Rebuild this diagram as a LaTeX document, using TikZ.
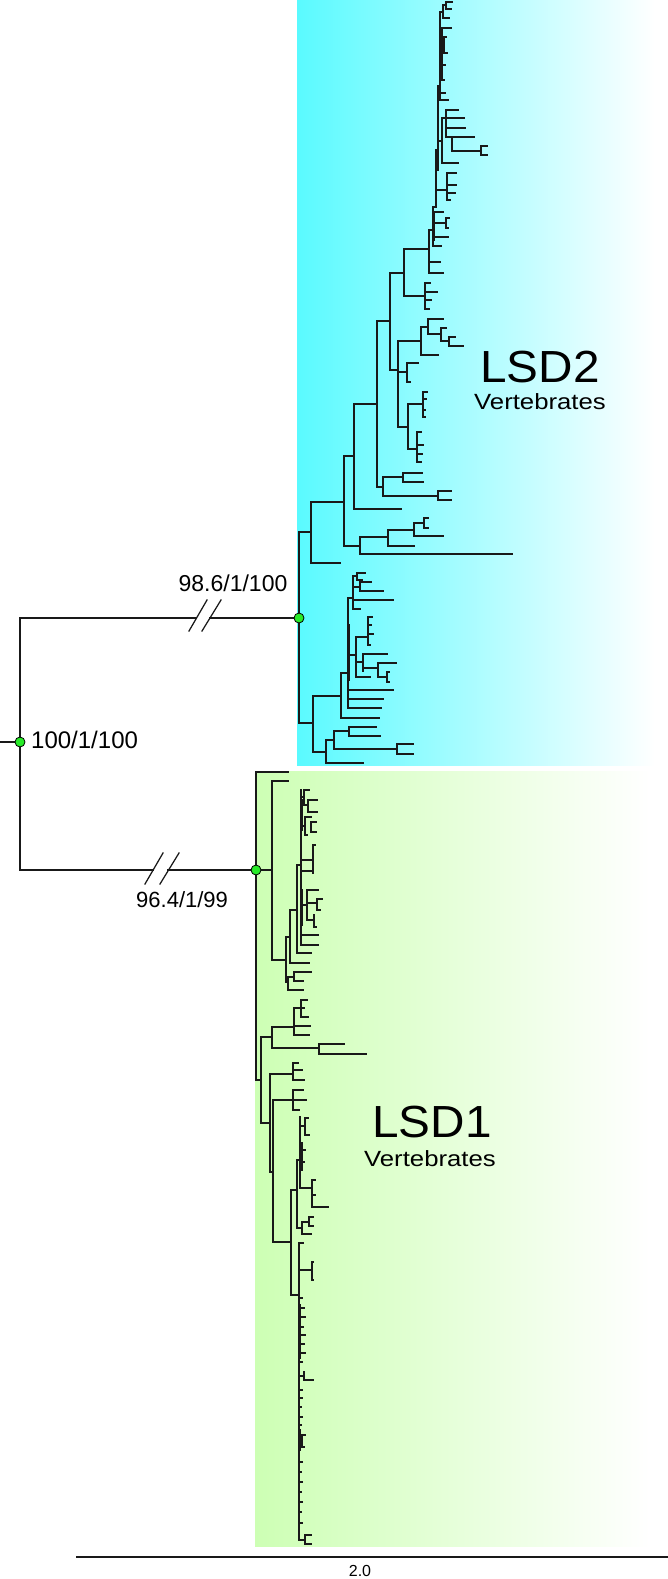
\documentclass[tikz,border=0pt]{standalone}
\usepackage{fontspec}
\setmainfont{Liberation Sans}
\definecolor{cyanL}{RGB}{90,250,255}
\definecolor{greenL}{RGB}{205,255,180}
\definecolor{dotG}{RGB}{40,235,40}
\definecolor{ink}{RGB}{25,25,25}
\newcommand\VL[3]{\draw[br] (#1,#2) -- (#1,#3);}
\newcommand\HL[3]{\draw[br] (#1,#3) -- (#2,#3);}
\newcommand\TB[5]{\draw[br] (#2,#3) -| (#1,#4) -- (#5,#4);}
\begin{document}
\begin{tikzpicture}[x=1pt,y=-1pt,
  br/.style={line width=1.25pt, draw=ink, line cap=rect},
  dot/.style={circle, draw=black, line width=0.8pt, fill=dotG, minimum size=10pt, inner sep=0pt},
  lab/.style={inner sep=0pt, font=\fontsize{23}{26}\selectfont},
  big/.style={inner sep=0pt, font=\fontsize{45}{50}\selectfont},
  sub/.style={inner sep=0pt, font=\fontsize{22}{26}\selectfont}]
\useasboundingbox (0,0) rectangle (668,1579);
% backgrounds
\shade[left color=cyanL, right color=white] (297,0) rectangle (655,765);
\shade[left color=greenL, right color=white] (255,771) rectangle (650,1546);
% main structure
\coordinate (stem) at (0,742);
\coordinate (root) at (20,742);
\coordinate (n2) at (299,618);
\coordinate (n1) at (256,870);
\coordinate (b2a) at (196,618);
\coordinate (b2b) at (210,618);
\coordinate (b1a) at (153,870);
\coordinate (b1b) at (168,870);
\draw[br] (stem) -- (root);
\draw[br] (root) |- (b2a);
\draw[br] (b2b) -- (n2);
\draw[br] (root) |- (b1a);
\draw[br] (b1b) -- (n1);
\draw[br] (189,631) -- (207,600);
\draw[br] (202,631) -- (221,600);
\draw[br] (145,884) -- (163,853);
\draw[br] (160,884) -- (179,853);
% ---------------- LSD2 ----------------
\VL{299}{532}{723}
\HL{299}{311}{532}
\HL{299}{313}{723}
\TB{311}{344}{502}{563}{340}
\TB{344}{354}{456}{546}{360}
\TB{360}{388}{537}{554}{512}
\TB{388}{414}{530}{546}{414}
\TB{414}{424}{523}{536}{443}
\TB{424}{428}{518}{528}{428}
\TB{354}{377}{404}{509}{401}
\TB{377}{390}{321}{487}{383}
\TB{383}{403}{477}{496}{438}
\TB{403}{422}{473}{482}{423}
\TB{438}{451}{491}{500}{451}
\TB{390}{404}{273}{370}{398}
\TB{398}{421}{341}{427}{408}
\draw[br, line width=1.8pt] (398,370) -- (398,398);
\HL{398}{407}{372}
\TB{407}{418}{363}{382}{410}
\TB{421}{428}{327}{355}{438}
\TB{428}{443}{319}{334}{441}
\TB{441}{446}{328}{341}{449}
\TB{449}{455}{337}{346}{463}
\TB{408}{423}{404}{449}{417}
\TB{423}{427}{392}{417}{425}
\HL{423}{426}{399}
\HL{423}{425}{410}
\TB{417}{421}{432}{462}{421}
\HL{417}{423}{445}
\HL{417}{422}{454}
\TB{404}{429}{249}{296}{425}
\VL{425}{283}{309}
\HL{425}{430}{283}
\HL{425}{437}{292}
\HL{425}{431}{300}
\HL{425}{429}{309}
\VL{429}{230}{273}
\HL{429}{433}{230}
\HL{429}{440}{262}
\HL{429}{443}{273}
\VL{433}{207}{246}
\draw[br, line width=1.8pt] (434,212) -- (434,240);
\HL{433}{436}{207}
\HL{433}{443}{212}
\HL{433}{446}{223}
\TB{446}{449}{218}{228}{448}
\HL{433}{448}{237}
\HL{433}{441}{246}
\VL{436}{150}{207}
\draw[br, line width=1.8pt] (436,150) -- (436,200);
\HL{436}{447}{190}
\VL{447}{173}{200}
\HL{447}{456}{173}
\HL{447}{456}{185}
\HL{447}{455}{193}
\HL{447}{450}{200}
\VL{438}{86}{170}
\HL{436}{438}{150}
\HL{438}{442}{141}
\VL{442}{118}{163}
\HL{442}{458}{163}
\HL{442}{446}{118}
\VL{446}{110}{137}
\HL{446}{458}{110}
\HL{446}{464}{118}
\HL{446}{465}{128}
\HL{446}{452}{137}
\TB{452}{474}{137}{151}{481}
\TB{481}{487}{146}{155}{487}
\HL{438}{440}{86}
\VL{440}{12}{100}
\draw[br, line width=1.8pt] (442,28) -- (442,80);
\HL{440}{448}{100}
\HL{440}{445}{93}
\HL{442}{444}{80}
\HL{442}{445}{65}
\HL{442}{444}{50}
\HL{442}{451}{28}
\VL{444}{37}{53}
\HL{444}{446}{37}
\HL{444}{447}{53}
\HL{440}{443}{12}
\TB{443}{446}{5}{18}{449}
\TB{446}{452}{2}{9}{451}
% LSD2 lower group
\TB{313}{341}{696}{752}{326}
\TB{341}{348}{673}{718}{379}
\VL{348}{598}{708}
\draw[br, line width=1.8pt] (349,625) -- (349,680);
\HL{348}{353}{598}
\VL{353}{576}{609}
\HL{353}{357}{576}
\TB{357}{365}{573}{580}{362}
\HL{353}{360}{587}
\TB{360}{371}{582}{591}{383}
\HL{353}{393}{600}
\HL{353}{360}{609}
\HL{348}{356}{655}
\VL{356}{637}{677}
\HL{356}{368}{637}
\VL{368}{617}{645}
\HL{368}{372}{617}
\HL{368}{371}{625}
\HL{368}{373}{634}
\HL{368}{370}{645}
\HL{356}{363}{662}
\VL{363}{654}{671}
\HL{363}{387}{654}
\HL{363}{378}{668}
\VL{378}{663}{677}
\HL{378}{396}{663}
\HL{378}{387}{677}
\TB{387}{389}{672}{682}{389}
\HL{356}{370}{677}
\HL{348}{393}{690}
\HL{348}{383}{699}
\HL{348}{381}{708}
\TB{326}{334}{740}{763}{363}
\TB{334}{349}{731}{749}{397}
\TB{349}{376}{727}{736}{380}
\TB{397}{413}{744}{754}{413}
% ---------------- LSD1 ----------------
\VL{256}{772}{1080}
\HL{256}{288}{772}
\HL{256}{272}{870}
\TB{272}{288}{781}{960}{286}
\TB{286}{290}{937}{982}{288}
\VL{288}{977}{990}
\HL{288}{303}{990}
\HL{288}{294}{977}
\TB{294}{311}{972}{981}{303}
\TB{290}{297}{910}{963}{309}
\TB{297}{301}{865}{953}{311}
\VL{301}{790}{945}
\draw[br, line width=1.8pt] (302,800) -- (302,830);
\draw[br, line width=1.8pt] (302,890) -- (302,925);
\HL{301}{304}{797}
\TB{304}{309}{790}{805}{308}
\TB{308}{317}{800}{812}{317}
\HL{301}{305}{826}
\VL{305}{817}{835}
\HL{305}{311}{817}
\TB{311}{316}{822}{832}{316}
\HL{305}{307}{835}
\HL{301}{313}{860}
\VL{313}{845}{873}
\HL{313}{315}{845}
\HL{301}{311}{871}
\HL{301}{307}{905}
\VL{307}{890}{920}
\HL{307}{318}{890}
\HL{307}{317}{903}
\VL{317}{899}{910}
\HL{317}{322}{899}
\HL{317}{320}{910}
\HL{307}{314}{920}
\VL{314}{915}{927}
\HL{314}{316}{927}
\HL{301}{318}{935}
\HL{301}{318}{945}
\HL{256}{261}{1080}
\TB{261}{272}{1037}{1123}{270}
\TB{272}{294}{1027}{1048}{319}
\TB{319}{344}{1044}{1054}{366}
\TB{294}{301}{1008}{1035}{309}
\HL{294}{310}{1026}
\VL{301}{1000}{1017}
\HL{301}{307}{1000}
\HL{301}{308}{1017}
\HL{301}{304}{1008}
\TB{270}{293}{1074}{1172}{273}
\VL{293}{1063}{1080}
\HL{293}{298}{1063}
\HL{293}{302}{1070}
\HL{293}{304}{1080}
\TB{273}{293}{1100}{1242}{291}
\VL{293}{1090}{1110}
\HL{293}{303}{1090}
\HL{293}{306}{1100}
\HL{293}{299}{1110}
\TB{291}{297}{1190}{1295}{299}
\VL{297}{1160}{1228}
\HL{297}{302}{1228}
\TB{302}{309}{1222}{1234}{311}
\TB{309}{313}{1217}{1226}{313}
\HL{297}{300}{1160}
\VL{300}{1117}{1188}
\HL{300}{305}{1126}
\VL{305}{1118}{1135}
\HL{305}{308}{1118}
\HL{305}{309}{1135}
\draw[br, line width=1.8pt] (302,1143) -- (302,1170);
\HL{302}{305}{1150}
\HL{302}{304}{1162}
\HL{300}{302}{1156}
\HL{300}{312}{1188}
\VL{312}{1180}{1207}
\HL{312}{315}{1180}
\HL{312}{315}{1195}
\HL{312}{328}{1207}
% comb
\VL{299}{1243}{1540}
\draw[br, line width=2pt] (300,1305) -- (300,1358);
\draw[br, line width=1.6pt] (300,1430) -- (300,1450);
\HL{299}{303}{1243}
\HL{299}{312}{1270}
\VL{312}{1262}{1280}
\HL{312}{313}{1262}
\HL{312}{313}{1280}
\HL{299}{302}{1298}
\HL{299}{304}{1308}
\HL{299}{305}{1317}
\HL{299}{303}{1327}
\HL{299}{305}{1335}
\HL{299}{304}{1344}
\HL{299}{305}{1353}
\HL{299}{302}{1362}
\HL{299}{304}{1376}
\VL{304}{1372}{1380}
\HL{304}{313}{1380}
\HL{299}{302}{1390}
\HL{299}{302}{1398}
\HL{299}{301}{1407}
\HL{299}{302}{1417}
\HL{299}{301}{1425}
\VL{302}{1435}{1447}
\HL{302}{305}{1435}
\HL{302}{304}{1447}
\HL{299}{302}{1462}
\HL{299}{301}{1472}
\HL{299}{302}{1482}
\HL{299}{301}{1492}
\HL{299}{302}{1502}
\HL{299}{301}{1512}
\HL{299}{302}{1523}
\HL{299}{305}{1540}
\TB{305}{311}{1535}{1544}{311}
% dots
\node[dot] (d0) at (root) {};
\node[dot] (d2) at (n2) {};
\node[dot] (d1) at (n1) {};
% labels
\node[lab, anchor=base west, font=\fontsize{24}{26}\selectfont] (l0) at (31,748) {100/1/100};
\node[lab, anchor=base] (l2) at (233,591) {98.6/1/100};
\node[lab, anchor=base west, font=\fontsize{22}{26}\selectfont] (l1) at (136,907) {96.4/1/99};
\node[big, anchor=base] (t2) at (540,382) {\scalebox{1.06}[1]{LSD2}};
\node[sub, anchor=base] (v2) at (540,409) {\scalebox{1.17}[1]{Vertebrates}};
\node[big, anchor=base] (t1) at (432,1137) {\scalebox{1.06}[1]{LSD1}};
\node[sub, anchor=base] (v1) at (430,1166) {\scalebox{1.17}[1]{Vertebrates}};
% scale bar
\coordinate (s0) at (76,1557);
\coordinate (s1) at (668,1557);
\draw[line width=1.4pt, draw=ink] (s0) -- (s1);
\node[inner sep=0pt, anchor=base, font=\fontsize{16}{18}\selectfont] (sl) at (360,1576) {2.0};
\end{tikzpicture}
\end{document}
